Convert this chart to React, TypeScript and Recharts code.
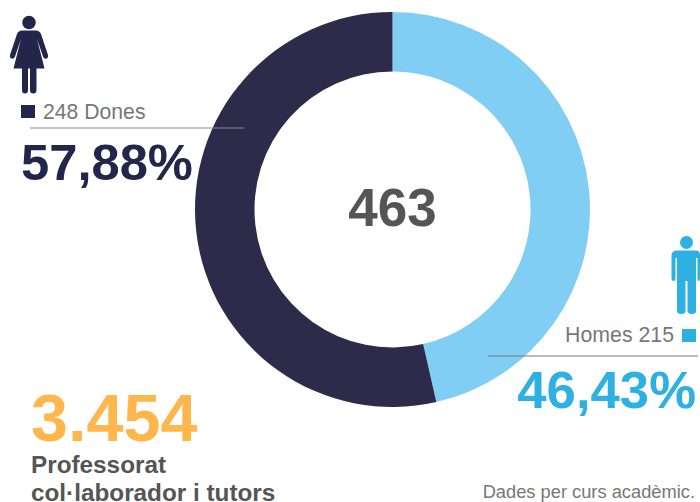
import React from 'react';
import { PieChart, Pie, Cell } from 'recharts';

const categories = ['Homes', 'Dones'];
const counts = [215, 248];
const sliceColors = ['#81CEF5', '#2D2A4A'];
const pieData = categories.map((name, i) => ({ name, value: counts[i] }));

const FONT = '"Liberation Sans", Arial, sans-serif';
const NAVY = '#22264B';
const BLUE = '#2FB0E2';
const GREY = '#777777';

function Woman() {
  return (
    <g fill={NAVY}>
      <circle cx={29} cy={22.5} r={6.8} />
      <path d="M22 30.5 H36 Q39.5 30.5 41 34 L48 55 Q48.6 58 46 58.8 Q44 59 43 56.5 L37 39 L44.5 68.5 H13.5 L21 39 L15 56.5 Q14 59 12 58.8 Q9.4 58 10 55 L17 34 Q18.5 30.5 22 30.5 Z" />
      <path d="M22 68 H28 V90 Q28 93.5 25 93.5 Q22 93.5 22 90 Z" />
      <path d="M30 68 H36.5 V90 Q36.5 93.5 33.2 93.5 Q30 93.5 30 90 Z" />
    </g>
  );
}

function Man() {
  return (
    <g fill={BLUE}>
      <circle cx={686.5} cy={242.5} r={6.5} />
      <path d="M677 250.5 H696 Q700 250.5 700 255 V278 Q700 281 697.5 281 V258 H696 V311 Q696 314 692 314 Q687.5 314 687.5 311 V281 H685.5 V311 Q685.5 314 681.5 314 Q677 314 677 311 V258 H675.5 V278 Q675.5 281 673.5 281 Q671.5 281 671.5 278 V256 Q671.5 250.5 677 250.5 Z" />
    </g>
  );
}

export default function App() {
  return (
    <div style={{ position: 'fixed', left: 0, top: 0, width: 700, height: 502, background: '#fff', overflow: 'hidden' }}>
      <PieChart width={700} height={502} margin={{ top: 0, right: 0, bottom: 0, left: 0 }}>
        <Pie
          data={pieData}
          dataKey="value"
          cx={392.5}
          cy={209.5}
          innerRadius={138}
          outerRadius={197.5}
          startAngle={90}
          endAngle={-270}
          stroke="none"
          isAnimationActive={false}
        >
          {pieData.map((d, i) => (
            <Cell key={d.name} fill={sliceColors[i]} />
          ))}
        </Pie>
      </PieChart>
      <svg width={700} height={502} style={{ position: 'absolute', left: 0, top: 0 }} fontFamily={FONT}>
        <Woman />
        <Man />
        <rect x={21} y={105} width={14} height={13} fill={NAVY} />
        <text x={43} y={119} fontSize={21.2} fill={GREY}>248 Dones</text>
        <line x1={30} x2={244} y1={128} y2={128} stroke="#8a8a8a" strokeWidth={1} />
        <text x={21} y={180} fontSize={50.7} fontWeight="bold" fill={NAVY}>57,88%</text>
        <text x={392.5} y={226} fontSize={53} fontWeight="bold" fill="#555555" textAnchor="middle">463</text>
        <text x={674} y={342} fontSize={21.3} fill={GREY} textAnchor="end">Homes 215</text>
        <rect x={682} y={329} width={14} height={13} fill={BLUE} />
        <line x1={488} x2={698} y1={356} y2={356} stroke="#777777" strokeWidth={1} />
        <text x={696} y={408} fontSize={52.7} fontWeight="bold" fill={BLUE} textAnchor="end">46,43%</text>
        <text x={31} y={441} fontSize={66.5} fontWeight="bold" fill="#FFB74D">3.454</text>
        <text x={31} y={473} fontSize={24.3} fontWeight="bold" fill="#555555">Professorat</text>
        <text x={31} y={501} fontSize={24.3} fontWeight="bold" fill="#555555">col·laborador i tutors</text>
        <text x={695} y={498} fontSize={18.3} fill={GREY} textAnchor="end">Dades per curs acadèmic.</text>
      </svg>
    </div>
  );
}
